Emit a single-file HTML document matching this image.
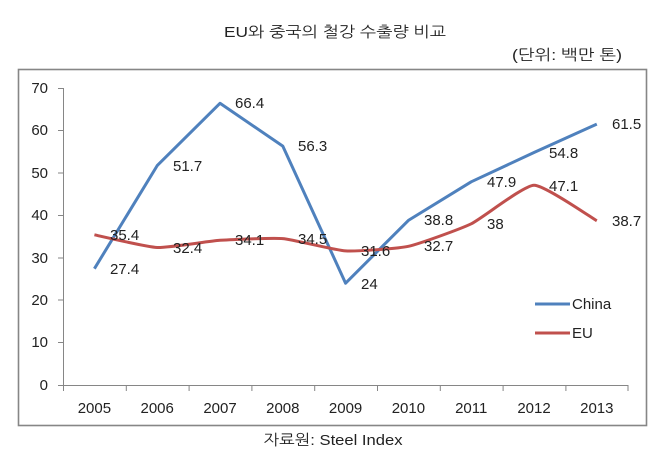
<!DOCTYPE html>
<html><head><meta charset="utf-8"><style>
html,body{margin:0;padding:0;background:#fff;}
svg{display:block;}
</style></head><body>
<svg width="670" height="463" viewBox="0 0 670 463" xmlns="http://www.w3.org/2000/svg">
<rect width="670" height="463" fill="#fff"/>
<text x="335" y="37" text-anchor="middle" font-family="'Liberation Sans','NanumGothic','Noto Sans CJK KR',sans-serif" font-size="15" fill="#222" textLength="222" lengthAdjust="spacingAndGlyphs">EU와 중국의 철강 수출량 비교</text>
<text x="512" y="60" font-family="'Liberation Sans','NanumGothic','Noto Sans CJK KR',sans-serif" font-size="15" fill="#222" textLength="110" lengthAdjust="spacingAndGlyphs">(단위: 백만 톤)</text>
<rect x="18.5" y="69.5" width="628" height="356" fill="#fff" stroke="#868686" stroke-width="1.6"/>
<g stroke="#868686" stroke-width="1" fill="none">
<line x1="63.5" y1="88" x2="63.5" y2="385"/>
<line x1="58" y1="88.5" x2="63.5" y2="88.5"/>
<line x1="58" y1="130.5" x2="63.5" y2="130.5"/>
<line x1="58" y1="173" x2="63.5" y2="173"/>
<line x1="58" y1="215.5" x2="63.5" y2="215.5"/>
<line x1="58" y1="258" x2="63.5" y2="258"/>
<line x1="58" y1="300" x2="63.5" y2="300"/>
<line x1="58" y1="342.5" x2="63.5" y2="342.5"/>
<line x1="58" y1="385.5" x2="628" y2="385.5"/>
<line x1="63.5" y1="385" x2="63.5" y2="391"/>
<line x1="126.3" y1="385" x2="126.3" y2="391"/>
<line x1="189.1" y1="385" x2="189.1" y2="391"/>
<line x1="251.9" y1="385" x2="251.9" y2="391"/>
<line x1="314.7" y1="385" x2="314.7" y2="391"/>
<line x1="377.5" y1="385" x2="377.5" y2="391"/>
<line x1="440.3" y1="385" x2="440.3" y2="391"/>
<line x1="503.1" y1="385" x2="503.1" y2="391"/>
<line x1="565.9" y1="385" x2="565.9" y2="391"/>
<line x1="628" y1="385" x2="628" y2="391"/>
</g>
<g font-family="'Liberation Sans',sans-serif" font-size="15" fill="#222" text-anchor="end">
<text x="48" y="93">70</text>
<text x="48" y="135">60</text>
<text x="48" y="178">50</text>
<text x="48" y="220">40</text>
<text x="48" y="263">30</text>
<text x="48" y="305">20</text>
<text x="48" y="347">10</text>
<text x="48" y="390">0</text>
</g>
<g font-family="'Liberation Sans',sans-serif" font-size="15" fill="#222" text-anchor="middle">
<text x="94.4" y="413">2005</text>
<text x="157.2" y="413">2006</text>
<text x="220" y="413">2007</text>
<text x="282.8" y="413">2008</text>
<text x="345.6" y="413">2009</text>
<text x="408.4" y="413">2010</text>
<text x="471.2" y="413">2011</text>
<text x="534" y="413">2012</text>
<text x="596.8" y="413">2013</text>
</g>
<polyline fill="none" stroke="#4F81BD" stroke-width="3" stroke-linejoin="round" points="94.4,268.7 157.2,165.6 220,103.3 282.8,146.1 345.6,283.2 408.4,220.4 471.2,181.8 534,152.5 596.8,124.1"/>
<path fill="none" stroke="#C0504D" stroke-width="3" stroke-linejoin="round" d="M94.4,234.8 C99.6,235.9 146.7,247 157.2,247.5 C167.7,248 209.5,241 220,240.3 C230.5,239.6 272.3,237.7 282.8,238.6 C293.3,239.5 335.1,250.3 345.6,250.9 C356.1,251.5 397.9,248.6 408.4,246.3 C418.9,244 460.7,228.9 471.2,223.8 C481.7,218.7 523.5,185.4 534,185.2 C544.5,185 591.6,217.8 596.8,220.8"/>
<g font-family="'Liberation Sans',sans-serif" font-size="15" fill="#222">
<text x="110" y="274">27.4</text>
<text x="173" y="171">51.7</text>
<text x="235" y="108">66.4</text>
<text x="298" y="151">56.3</text>
<text x="361" y="289">24</text>
<text x="424" y="225">38.8</text>
<text x="487" y="187">47.9</text>
<text x="549" y="158">54.8</text>
<text x="612" y="129">61.5</text>
<text x="110" y="240">35.4</text>
<text x="173" y="253">32.4</text>
<text x="235" y="245">34.1</text>
<text x="298" y="244">34.5</text>
<text x="361" y="256">31.6</text>
<text x="424" y="251">32.7</text>
<text x="487" y="229">38</text>
<text x="549" y="191">47.1</text>
<text x="612" y="226">38.7</text>
</g>
<line x1="535" y1="304" x2="570" y2="304" stroke="#4F81BD" stroke-width="3"/>
<line x1="535" y1="333" x2="570" y2="333" stroke="#C0504D" stroke-width="3"/>
<g font-family="'Liberation Sans',sans-serif" font-size="15" fill="#222">
<text x="572" y="309">China</text>
<text x="572" y="338">EU</text>
</g>
<text x="333" y="445" text-anchor="middle" font-family="'Liberation Sans','NanumGothic','Noto Sans CJK KR',sans-serif" font-size="15" fill="#222" textLength="139" lengthAdjust="spacingAndGlyphs">자료원: Steel Index</text>
</svg>
</body></html>
